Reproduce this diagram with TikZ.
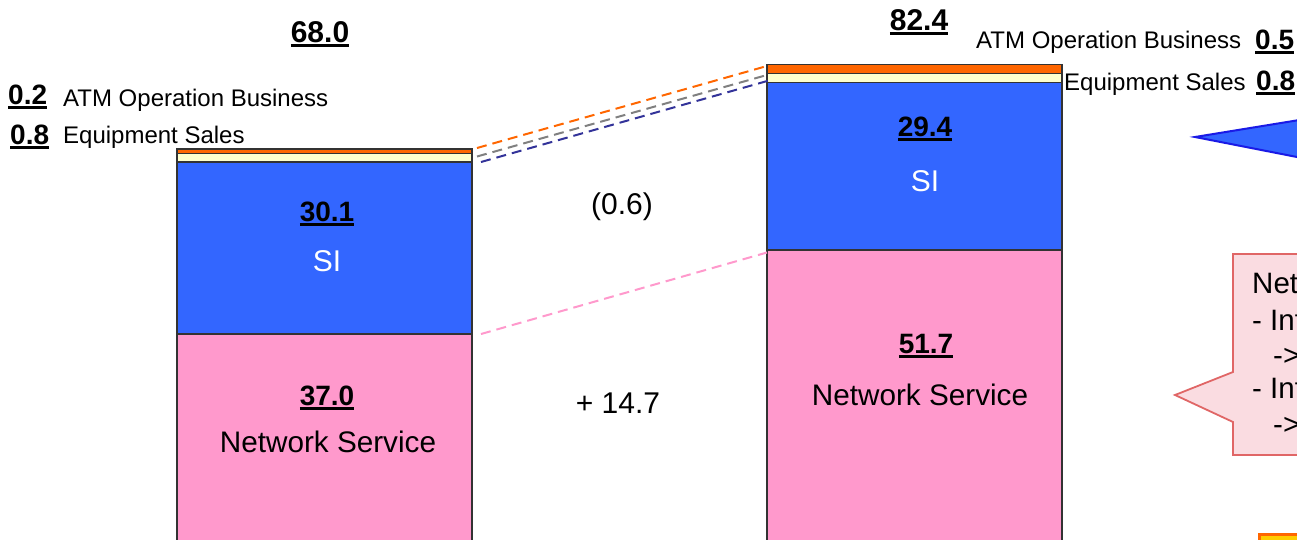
\documentclass[tikz,border=0pt]{standalone}
\usepackage{fontspec}
\setmainfont{Liberation Sans}
\definecolor{orangeC}{HTML}{FF6600}
\definecolor{creamC}{HTML}{FFFFCC}
\definecolor{blueC}{HTML}{3366FF}
\definecolor{pinkC}{HTML}{FF99CC}
\definecolor{dashgray}{HTML}{808080}
\definecolor{dashblue}{HTML}{333399}
\definecolor{calloutblue}{HTML}{1A1AE6}
\definecolor{calloutpinkfill}{HTML}{FADCE1}
\definecolor{calloutpinkdraw}{HTML}{E06666}
\definecolor{yellowC}{HTML}{FFCC00}
\definecolor{barline}{HTML}{333333}
\newcommand\myfs[1]{\fontsize{#1}{#1}\selectfont}
\newcommand\myul[1]{\setbox0=\hbox{#1}\rlap{\rule[-4.5pt]{\wd0}{3pt}}\box0}
\begin{document}
\begin{tikzpicture}[x=1pt,y=-1pt,
  seg/.style={draw=barline, line width=1.1pt},
  lbl/.style={inner sep=0pt, anchor=base},
  lblw/.style={inner sep=0pt, anchor=base west},
  dl/.style={dash pattern=on 10pt off 6pt, line width=2pt}]
\useasboundingbox (0,0) rectangle (1297,540);
\clip (0,0) rectangle (1297,540);

% left bar
\path[seg, fill=pinkC] (177,334) rectangle (472,560);
\path[seg, fill=blueC] (177,162) rectangle (472,334);
\path[seg, fill=creamC] (177,153.5) rectangle (472,162);
\path[seg, fill=orangeC] (177,149) rectangle (472,153.5);

% right bar
\path[seg, fill=pinkC] (767,250) rectangle (1062,560);
\path[seg, fill=blueC] (767,82.5) rectangle (1062,250);
\path[seg, fill=creamC] (767,73.5) rectangle (1062,82.5);
\path[seg, fill=orangeC] (767,64.5) rectangle (1062,73.5);

% connector coordinates
\coordinate (oa) at (477,148);
\coordinate (ob) at (767,66);
\coordinate (ga) at (477,156.5);
\coordinate (gb) at (767,75);
\coordinate (ba) at (481,162);
\coordinate (bb) at (769,80.5);
\coordinate (pa) at (481,334);
\coordinate (pb) at (767,252.5);
\draw[dl, draw=orangeC] (oa) -- (ob);
\draw[dl, draw=dashgray] (ga) -- (gb);
\draw[dl, draw=dashblue] (ba) -- (bb);
\draw[dl, draw=pinkC] (pa) -- (pb);

% totals
\node[lbl] (t68) at (320,43) {\myfs{30}\bfseries\myul{68.0}};
\node[lbl] (t82) at (919,31) {\myfs{30}\bfseries\myul{82.4}};

% left side labels
\node[lblw] (v02) at (8,105) {\myfs{28}\bfseries\myul{0.2}};
\node[lblw] (atmL) at (63,107) {\myfs{24}ATM Operation Business};
\node[lblw] (v08L) at (10,145) {\myfs{28}\bfseries\myul{0.8}};
\node[lblw] (eqL) at (63,144) {\myfs{24}Equipment Sales};

% right side labels
\node[lblw] (atmR) at (976,49) {\myfs{24}ATM Operation Business};
\node[lblw] (v05) at (1255,50) {\myfs{28}\bfseries\myul{0.5}};
\node[lblw] (eqR) at (1064,91) {\myfs{24}Equipment Sales};
\node[lblw] (v08R) at (1256,91) {\myfs{28}\bfseries\myul{0.8}};

% bar labels
\node[lbl] (l301) at (327,221) {\myfs{28}\bfseries\myul{30.1}};
\node[lbl, text=white] (lsi) at (327,271) {\myfs{30}SI};
\node[lbl] (l370) at (327,405) {\myfs{28}\bfseries\myul{37.0}};
\node[lbl] (lns) at (328,452) {\myfs{29.7}Network Service};
\node[lbl] (r294) at (925,137) {\myfs{28}\bfseries\myul{29.4}};
\node[lbl, text=white] (rsi) at (925,191) {\myfs{30}SI};
\node[lbl] (r517) at (926,353) {\myfs{28}\bfseries\myul{51.7}};
\node[lbl] (rns) at (920,405) {\myfs{29.7}Network Service};

% differences
\node[lbl] (d06) at (622,214) {\myfs{30}(0.6)};
\node[lbl] (d147) at (618,413) {\myfs{30}+ 14.7};

% blue callout
\path[draw=calloutblue, fill=blueC, line width=2pt, line join=miter]
  (1330,115) -- (1195,137) -- (1330,163.5) -- cycle;

% pink callout
\path[draw=calloutpinkdraw, fill=calloutpinkfill, line width=1.8pt]
  (1233,254) -- (1330,254) -- (1330,455) -- (1233,455) -- (1233,422)
  -- (1175,395) -- (1233,372) -- cycle;
\node[lblw] (c1) at (1252,293.5) {\myfs{29.5}Net};
\node[lblw] (c2) at (1252,330) {\myfs{29.5}- Int};
\node[lblw] (c3) at (1273,365) {\myfs{29.5}->};
\node[lblw] (c4) at (1252,398) {\myfs{29.5}- Int};
\node[lblw] (c5) at (1273,434) {\myfs{29.5}->};

% yellow box
\path[draw=orangeC, fill=yellowC, line width=2.5pt] (1259.25,534.5) rectangle (1330,580);
\end{tikzpicture}
\end{document}
